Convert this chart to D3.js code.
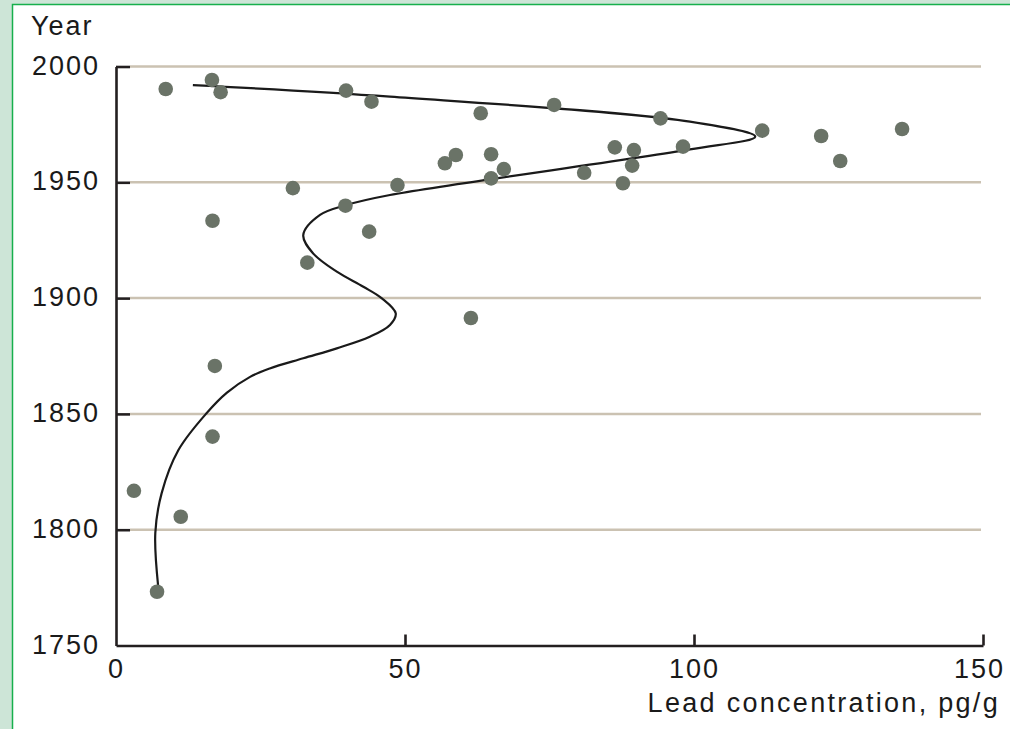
<!DOCTYPE html>
<html>
<head>
<meta charset="utf-8">
<script src="https://cdn.jsdelivr.net/npm/d3@7"></script>
<style>
  html, body { margin: 0; padding: 0; background: #cde5d7; }
  svg { display: block; }
  text { font-family: "Liberation Sans", Arial, Helvetica, sans-serif; fill: #1a1a1a; }
</style>
</head>
<body>
<div id="chart"></div>
<script>
// measured samples: lead concentration (pg/g) and year
var leadValues = [8.6, 16.6, 18.1, 39.8, 44.2, 63.1, 75.8, 94.2, 111.8, 122.0,
                  136.0, 125.3, 86.3, 89.6, 98.1, 89.3, 87.7, 81.0, 64.9, 67.1,
                  64.9, 58.8, 56.9, 48.7, 30.6, 39.7, 16.7, 43.8, 33.1, 61.4,
                  17.1, 16.7, 3.1, 11.2, 7.1];
var sampleYears = [1990.3, 1994.2, 1988.9, 1989.6, 1984.8, 1979.8, 1983.4, 1977.6, 1972.3, 1970.0,
                   1973.0, 1959.2, 1965.1, 1963.9, 1965.4, 1957.2, 1949.6, 1954.1, 1962.1, 1955.7,
                   1951.7, 1961.8, 1958.2, 1948.8, 1947.5, 1939.9, 1933.4, 1928.7, 1915.3, 1891.4,
                   1870.7, 1840.2, 1816.8, 1805.6, 1773.2];

// smoothed trend curve (newest first)
var trendLead  = [13.3, 47.4, 99.3, 110.6, 99.3, 47.4, 39.9, 35.3, 32.4, 34.1,
                  38.2, 42.8, 46.0, 48.4, 47.4, 43.9, 38.2, 32.4, 26.6, 23.2,
                  19.2, 15.7, 10.8, 7.9, 6.8, 7.3];
var trendYears = [1992.0, 1987.0, 1976.2, 1969.7, 1964.2, 1944.5, 1940.2, 1935.9, 1927.2, 1919.3,
                  1911.4, 1904.9, 1899.9, 1893.4, 1888.4, 1883.3, 1878.3, 1874.0, 1869.6, 1866.0,
                  1859.2, 1850.4, 1834.4, 1815.8, 1798.6, 1775.4];

var yearTicks = [1750, 1800, 1850, 1900, 1950, 2000];
var gridYears = [1800, 1850, 1900, 1950, 2000];
var leadTicks = [0, 50, 100, 150];

var width = 1010, height = 729;

var svg = d3.select("#chart").append("svg")
    .attr("width", width)
    .attr("height", height);

// panel
svg.append("rect")
    .attr("x", 12.5).attr("y", 4.5)
    .attr("width", width).attr("height", height)
    .attr("fill", "#ffffff")
    .attr("stroke", "#17b04c")
    .attr("stroke-width", 1.5);

var xScale = d3.scaleLinear().domain([0, 150]).range([116, 983]);
var yScale = d3.scaleLinear().domain([1750, 2000]).range([645.5, 66.5]);

// grid lines
svg.append("g").selectAll("line")
    .data(gridYears)
    .enter().append("line")
    .attr("x1", 130).attr("x2", 981)
    .attr("y1", function(d) { return yScale(d); })
    .attr("y2", function(d) { return yScale(d); })
    .attr("stroke", "#cbc2b2")
    .attr("stroke-width", 2.5);

// axes
var yAxis = d3.axisLeft(yScale)
    .tickValues(yearTicks)
    .tickSize(-14)
    .tickSizeOuter(0)
    .tickPadding(16)
    .tickFormat(d3.format("d"));

var xAxis = d3.axisBottom(xScale)
    .tickValues(leadTicks)
    .tickSize(-11)
    .tickSizeOuter(0)
    .tickFormat(d3.format("d"));

var gy = svg.append("g")
    .attr("transform", "translate(" + xScale(0) + ",0)")
    .call(yAxis);
gy.selectAll("text")
    .attr("dy", "7.5")
    .style("font-size", "27px")
    .style("letter-spacing", "2px")
    .attr("fill", "#1a1a1a");

var gx = svg.append("g")
    .attr("transform", "translate(0," + yScale(1750) + ")")
    .call(xAxis);
gx.selectAll("text")
    .attr("y", 32)
    .attr("dy", null)
    .attr("dx", function(d) { return d === 150 ? -4 : 0; })
    .style("font-size", "27px")
    .style("letter-spacing", "2px")
    .attr("fill", "#1a1a1a");

svg.selectAll(".domain, .tick line")
    .attr("stroke", "#231f20")
    .attr("stroke-width", 2.6);
svg.selectAll(".tick").filter(function(d) { return d === 1750 || d === 0; })
    .select("line").remove();

// axis titles
svg.append("text")
    .attr("x", 31).attr("y", 35)
    .style("font-size", "27px")
    .style("letter-spacing", "2px")
    .text("Year");

svg.append("text")
    .attr("x", 1000).attr("y", 712)
    .attr("text-anchor", "end")
    .style("font-size", "27px")
    .style("letter-spacing", "2.3px")
    .text("Lead concentration, pg/g");

// trend curve
var trend = d3.zip(trendLead, trendYears);
var line = d3.line()
    .x(function(d) { return xScale(d[0]); })
    .y(function(d) { return yScale(d[1]); })
    .curve(d3.curveCatmullRom.alpha(0.5));

svg.append("path")
    .datum(trend)
    .attr("d", line)
    .attr("fill", "none")
    .attr("stroke", "#1a1a1a")
    .attr("stroke-width", 2.2);

// sample points
var samples = d3.zip(leadValues, sampleYears);
svg.append("g").selectAll("circle")
    .data(samples)
    .enter().append("circle")
    .attr("cx", function(d) { return xScale(d[0]); })
    .attr("cy", function(d) { return yScale(d[1]); })
    .attr("r", 7.3)
    .attr("fill", "#6a7367");
</script>
</body>
</html>
